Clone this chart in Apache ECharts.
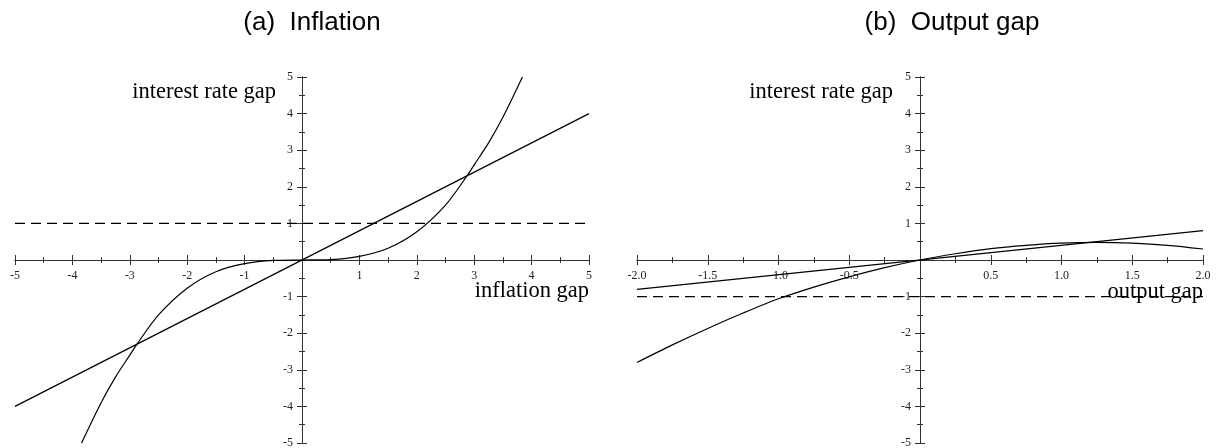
<!DOCTYPE html>
<html>
<head>
<meta charset="utf-8">
<script src="https://cdn.jsdelivr.net/npm/echarts@6/dist/echarts.min.js"></script>
<style>
  html, body { margin: 0; padding: 0; background: #fff; }
  #chart { width: 1219px; height: 448px; }
</style>
</head>
<body>
<div id="chart"></div>
<script>
// (a) inflation gap -> interest rate gap
const inflLineX = [-5, 5];
const inflLineY = [-4, 4];
const inflCurveX = [-3.84, -3.5, -3.25, -3, -2.88, -2.5, -2, -1.5, -1, -0.5, 0, 0.5, 1, 1.5, 2, 2.5, 2.88, 3, 3.25, 3.5, 3.84];
const inflCurveY = [-5, -3.9, -3.2, -2.6, -2.31, -1.5, -0.77, -0.32, -0.1, -0.012, 0, 0.012, 0.1, 0.32, 0.77, 1.5, 2.31, 2.6, 3.2, 3.9, 5];
const inflTargetX = [-5, 5];
const inflTargetY = [1, 1];

// (b) output gap -> interest rate gap
const outLineX = [-2, 2];
const outLineY = [-0.8, 0.8];
const outCurveX = [-2, -1.75, -1.5, -1.25, -1, -0.75, -0.5, -0.25, 0, 0.25, 0.5, 0.75, 1, 1.25, 1.5, 1.75, 2];
const outCurveY = [-2.8, -2.32, -1.87, -1.45, -1.06, -0.74, -0.46, -0.21, 0, 0.17, 0.31, 0.4, 0.46, 0.48, 0.46, 0.4, 0.3];
const outTargetX = [-2, 2];
const outTargetY = [-1, -1];

const titles = ['(a)  Inflation', '(b)  Output gap'];
const xNames = ['inflation gap', 'output gap'];
const yName = 'interest rate gap';

const axisColor = '#333';
const serif = 'Liberation Serif';

// grid boxes; axes are pushed inwards so they cross at (0, 0)
const grids = [
    { left: 15, top: 77, width: 574, height: 366 },
    { left: 637, top: 77, width: 566, height: 366 }
];

const pairs = (xs, ys) => xs.map((x, i) => [x, ys[i]]);

function hideZero(decimals) {
    return v => (Math.abs(v) < 1e-9 ? '' : v.toFixed(decimals));
}

function makeAxis(dim, gridIndex, min, max, interval, position, withLabels, decimals) {
    const g = grids[gridIndex];
    // distance from the grid edge to the zero line
    const offset = dim === 'x'
        ? -g.height * (0 - (-5)) / 10
        : -g.width * (0 - min) / (max - min);
    return {
        type: 'value',
        gridIndex: gridIndex,
        position: position,
        offset: offset,
        min: min,
        max: max,
        interval: interval,
        axisLine: { show: true, onZero: false, lineStyle: { color: axisColor, width: 1 } },
        axisTick: { show: true, length: 5, lineStyle: { color: axisColor, width: 1 } },
        minorTick: { show: true, splitNumber: 2, length: 3, lineStyle: { color: axisColor, width: 1 } },
        splitLine: { show: false },
        minorSplitLine: { show: false },
        axisLabel: {
            show: withLabels,
            margin: dim === 'x' ? 10 : 9,
            fontFamily: serif,
            fontSize: 12,
            color: '#222',
            formatter: hideZero(decimals)
        }
    };
}

function curve(data, gridIndex, dashed) {
    return {
        type: 'line',
        xAxisIndex: gridIndex * 2,
        yAxisIndex: gridIndex * 2,
        data: data,
        showSymbol: false,
        smooth: dashed ? false : 0.3,
        silent: true,
        lineStyle: { color: '#000', width: 1.2, type: dashed ? [10, 6] : 'solid' }
    };
}

function label(text, x, y, align, font) {
    return {
        type: 'text',
        x: x,
        y: y,
        silent: true,
        style: {
            text: text,
            font: font,
            fill: '#000',
            align: align,
            verticalAlign: 'middle',
            textAlign: align,
            textVerticalAlign: 'middle'
        }
    };
}

const chart = echarts.init(document.getElementById('chart'));

const option = {
    animation: false,
    backgroundColor: '#fff',
    grid: grids.map(g => Object.assign({ outerBoundsMode: 'none' }, g)),
    xAxis: [
        makeAxis('x', 0, -5, 5, 1, 'bottom', true, 0),
        makeAxis('x', 0, -5, 5, 1, 'top', false, 0),
        makeAxis('x', 1, -2, 2, 0.5, 'bottom', true, 1),
        makeAxis('x', 1, -2, 2, 0.5, 'top', false, 1)
    ],
    yAxis: [
        makeAxis('y', 0, -5, 5, 1, 'left', true, 0),
        makeAxis('y', 0, -5, 5, 1, 'right', false, 0),
        makeAxis('y', 1, -2, 2, 1, 'left', true, 0),
        makeAxis('y', 1, -2, 2, 1, 'right', false, 0)
    ],
    series: [
        curve(pairs(inflTargetX, inflTargetY), 0, true),
        curve(pairs(inflLineX, inflLineY), 0, false),
        curve(pairs(inflCurveX, inflCurveY), 0, false),
        curve(pairs(outTargetX, outTargetY), 1, true),
        curve(pairs(outLineX, outLineY), 1, false),
        curve(pairs(outCurveX, outCurveY), 1, false)
    ],
    graphic: [
        label(titles[0], 312, 23, 'center', '26px "Liberation Sans"'),
        label(titles[1], 952, 23, 'center', '26px "Liberation Sans"'),
        label(yName, 276, 92, 'right', '22.5px "Liberation Serif"'),
        label(yName, 893, 92, 'right', '22.5px "Liberation Serif"'),
        label(xNames[0], 589, 291, 'right', '22.5px "Liberation Serif"'),
        label(xNames[1], 1203, 292, 'right', '22.5px "Liberation Serif"')
    ]
};

// y axes of both panels run -5..5
option.yAxis.forEach(a => { a.min = -5; a.max = 5; });

chart.setOption(option);
</script>
</body>
</html>
